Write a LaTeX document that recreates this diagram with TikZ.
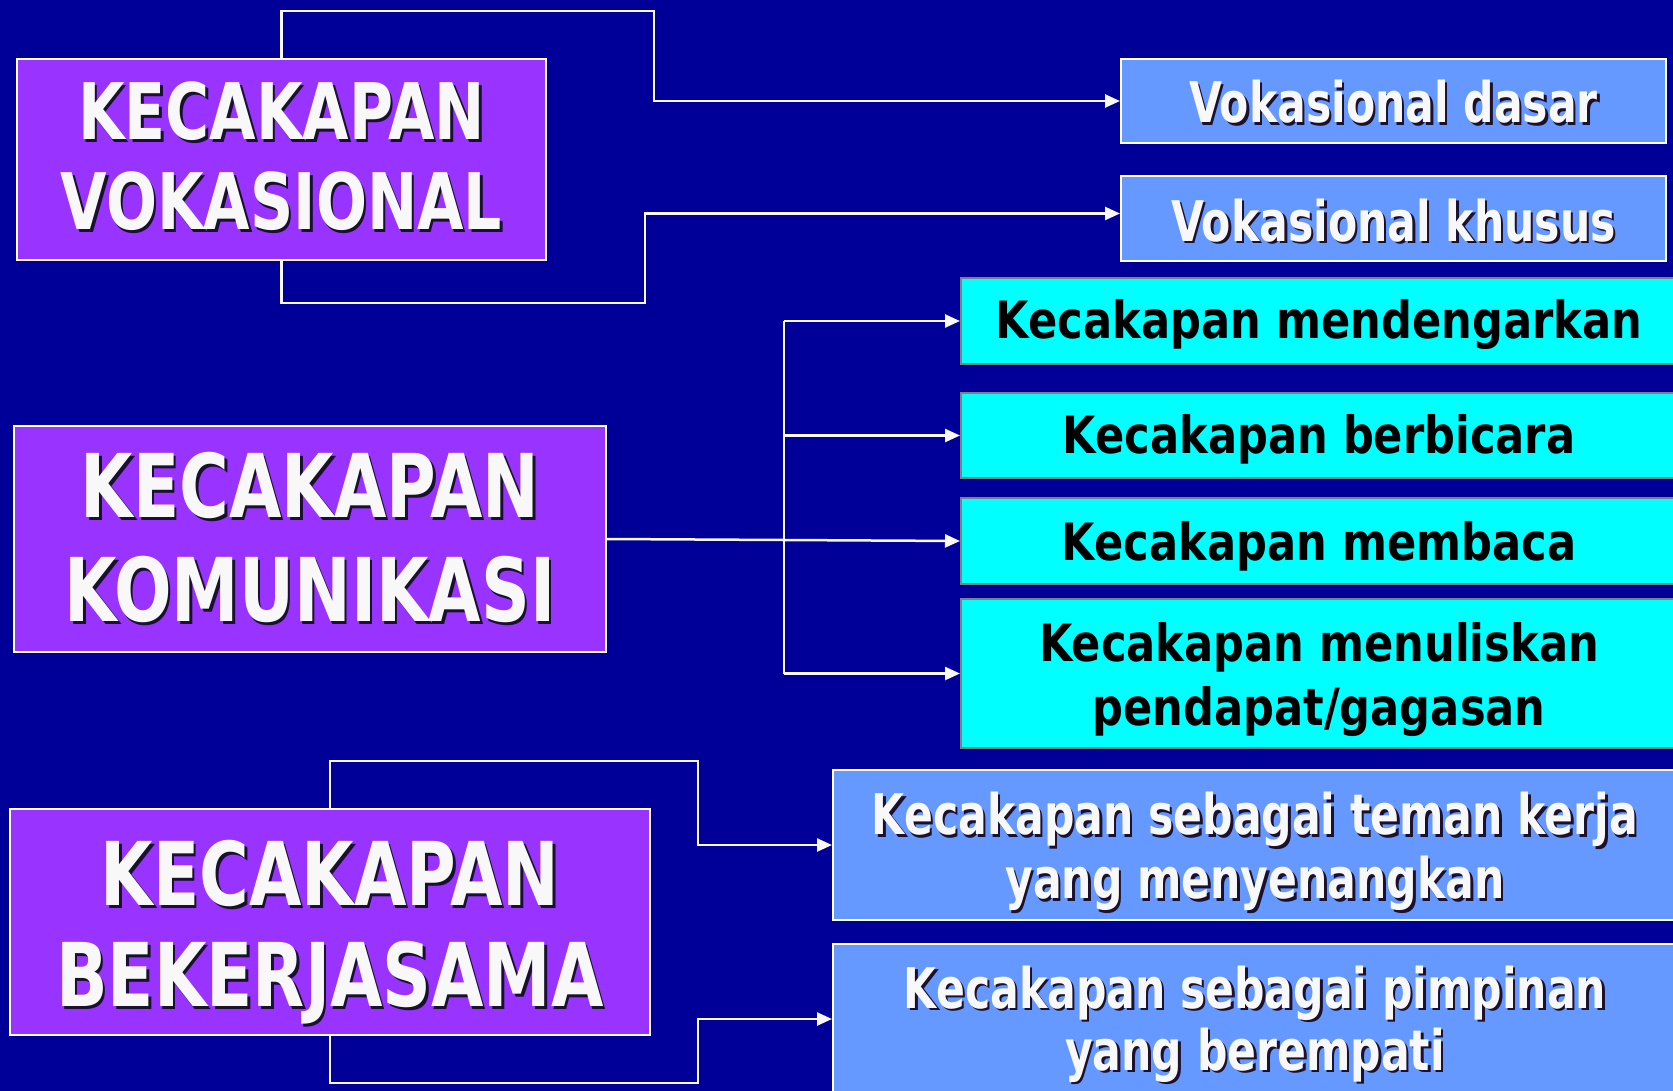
\documentclass[tikz,border=0pt]{standalone}
\usepackage{fontspec}
\setmainfont{DejaVu Sans}
\newfontfamily\titlef{DejaVu Sans}[FakeStretch=0.77]
\newfontfamily\whitef{DejaVu Sans}[FakeStretch=0.76]
\newfontfamily\blackf{DejaVu Sans}[FakeStretch=0.84]
\usetikzlibrary{arrows.meta}
\definecolor{bgc}{HTML}{000099}
\definecolor{purp}{HTML}{9933FF}
\definecolor{lblue}{HTML}{6699FF}
\definecolor{cyanc}{HTML}{00FFFF}
\definecolor{shc}{HTML}{1A1030}
\definecolor{offwhite}{HTML}{F8F8F8}
\newcommand\shl[1]{\leavevmode\rlap{\kern2.5pt\raisebox{-2.5pt}{\color{shc}#1}}#1}
\newcommand\dn[2]{\raisebox{-#1}[\height][\depth]{\begin{tabular}{@{}c@{}}#2\end{tabular}}}
\tikzset{
  titlebox/.style={draw=white, line width=2pt, fill=purp, text=offwhite, align=center, inner sep=0pt},
  subbox/.style={draw=white, line width=2pt, fill=lblue, text=offwhite, align=center, inner sep=0pt,
    font=\whitef\bfseries\fontsize{56}{64}\selectfont},
  cybox/.style={draw=gray, line width=2pt, fill=cyanc, text=black, align=center, inner sep=0pt,
    font=\blackf\bfseries\fontsize{51.4}{64}\selectfont},
  conn/.style={draw=offwhite, line width=2.5pt},
  arr/.style={conn, -{Triangle[length=15pt,width=13pt]}},
}
\begin{document}
\begin{tikzpicture}[x=1pt,y=-1pt]
\fill[bgc] (0,0) rectangle (1673,1091);
\useasboundingbox (0,0) rectangle (1673,1091);

% left title boxes
\node[titlebox, minimum width=529pt, minimum height=201pt,
  font=\titlef\bfseries\fontsize{78}{90}\selectfont] (vok) at (281.5,159.5)
  {\dn{7.5pt}{\shl{KECAKAPAN}\\\shl{VOKASIONAL}}};
\node[titlebox, minimum width=592pt, minimum height=226pt,
  font=\titlef\bfseries\fontsize{88}{104}\selectfont] (kom) at (310,539)
  {\dn{10pt}{\shl{KECAKAPAN}\\\shl{KOMUNIKASI}}};
\node[titlebox, minimum width=640pt, minimum height=226pt,
  font=\titlef\bfseries\fontsize{88}{101}\selectfont] (bek) at (330,922)
  {\dn{14pt}{\shl{KECAKAPAN}\\\shl{BEKERJASAMA}}};

% vocational sub boxes
\node[subbox, minimum width=545pt, minimum height=84pt] (vd) at (1393.5,101) {\dn{9pt}{\shl{Vokasional dasar}}};
\node[subbox, minimum width=545pt, minimum height=85pt] (vk) at (1393.5,218.5) {\dn{10pt}{\shl{Vokasional khusus}}};

% communication sub boxes
\node[cybox, minimum width=716pt, minimum height=86pt] (md) at (1319,321) {\dn{5pt}{Kecakapan mendengarkan}};
\node[cybox, minimum width=716pt, minimum height=85pt] (bb) at (1319,435.5) {\dn{5pt}{Kecakapan berbicara}};
\node[cybox, minimum width=716pt, minimum height=86pt] (mb) at (1319,541) {\dn{6.5pt}{Kecakapan membaca}};
\node[cybox, minimum width=716pt, minimum height=149pt] (mn) at (1319,673.5) {\dn{7pt}{Kecakapan menuliskan\\pendapat/gagasan}};

% cooperation sub boxes
\node[subbox, minimum width=844pt, minimum height=150pt] (tk) at (1255,845) {\dn{9pt}{\shl{Kecakapan sebagai teman kerja}\\\shl{yang menyenangkan}}};
\node[subbox, minimum width=844pt, minimum height=150pt,
  font=\whitef\bfseries\fontsize{56}{62}\selectfont] (pp) at (1255,1019) {\dn{8pt}{\shl{Kecakapan sebagai pimpinan}\\\shl{yang berempati}}};

% connectors vocational
\draw[arr] (vok.north) |- (654,11) |- (vd.west);
\draw[arr] (vok.south) |- (645,303) |- ([yshift=5pt]vk.west);

% connectors communication
\coordinate (bx) at (784,0);
\draw[arr] (kom.east) -- (mb.west);
\draw[conn] (md.west -| bx) -- (mn.west -| bx);
\draw[arr] (md.west -| bx) -- (md.west);
\draw[arr] (bb.west -| bx) -- (bb.west);
\draw[arr] (mn.west -| bx) -- (mn.west);

% connectors cooperation
\draw[arr] (bek.north) |- (698,761) |- (tk.west);
\draw[arr] (bek.south) |- (698,1083) |- (pp.west);
\end{tikzpicture}
\end{document}
